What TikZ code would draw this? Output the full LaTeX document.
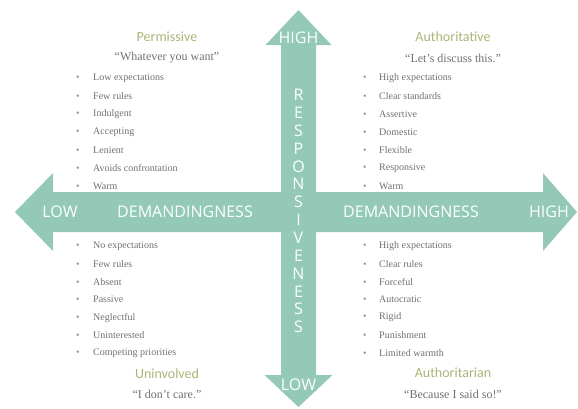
\documentclass[tikz,border=0pt]{standalone}
\usepackage{fontspec}
\setmainfont{Liberation Serif}
\newfontfamily\axisfont{Open Sans}
\newfontfamily\stylefont{Carlito}
\usetikzlibrary{positioning}

\definecolor{mint}{RGB}{147,201,182}
\definecolor{olive}{RGB}{168,182,120}
\definecolor{inkgray}{RGB}{112,112,112}
\definecolor{dotgray}{RGB}{150,150,150}

\newcommand{\bul}[1]{\makebox[#1][l]{\textcolor{dotgray}{\textbullet}}}

\begin{document}
\begin{tikzpicture}[x=1pt,y=-1pt,
					axis/.style={text=white,inner sep=0pt,font=\axisfont\fontsize{16}{16}\selectfont},
					stylename/.style={text=olive,inner sep=0pt,font=\stylefont\fontsize{14}{14}\selectfont},
					saying/.style={text=inkgray,inner sep=0pt,font=\fontsize{12}{12}\selectfont},
					item/.style={text=inkgray,anchor=west,inner sep=0pt,font=\fontsize{10}{10}\selectfont},
					node distance=9pt,
				]
				\useasboundingbox (0,0) rectangle (578,408);
				
				% the two crossed double arrows as one outline
				\fill[mint] (298.5,10) -- (331.5,45) -- (316,45) -- (316,192)
					-- (543,192) -- (543,173) -- (577,212) -- (543,251) -- (543,232)
					-- (316,232) -- (316,375) -- (332.5,375) -- (298.5,407) -- (264.5,375)
					-- (281,375) -- (281,232) -- (53,232) -- (53,251) -- (15,212)
					-- (53,173) -- (53,192) -- (281,192) -- (281,45) -- (265.5,45) -- cycle;
				
				% axis words
				\node[axis] (lowx) at (60,212) {LOW};
				\node[axis] (demleft) at (185,212) {DEMANDINGNESS};
				\node[axis] (demright) at (411,212) {DEMANDINGNESS};
				\node[axis] (highx) at (549,212) {HIGH};
				\node[axis] (highy) at (298.5,38) {HIGH};
				\node[axis] (lowy) at (298.5,385) {LOW};
				\foreach \c [count=\i from 0] in {R,E,S,P,O,N,S,I,V,E,N,E,S,S}
					\node[axis] (resp-\i) at (298.5,95+17.85*\i) {\c};
				
				% upper left
				\node[stylename] (perm) at (167,37) {Permissive};
				\node[saying] (permq) [below=of perm.center,anchor=center,yshift=-12pt] {``Whatever you want''};
				\foreach \t [count=\i from 0] in {Low expectations,Few rules,Indulgent,Accepting,Lenient,Avoids confrontation,Warm}
					\node[item] (perm-\i) at (76,78+18*\i) {\bul{17pt}\t};
				
				% upper right
				\node[stylename] (auth) at (453,37) {Authoritative};
				\node[saying] (authq) [below=of auth.center,anchor=center,yshift=-12pt] {``Let's discuss this.''};
				\foreach \t [count=\i from 0] in {High expectations,Clear standards,Assertive,Domestic,Flexible,Responsive,Warm}
					\node[item] (auth-\i) at (363,78+18*\i) {\bul{16pt}\t};
				
				% lower left
				\foreach \t [count=\i from 0] in {No expectations,Few rules,Absent,Passive,Neglectful,Uninterested,Competing priorities}
					\node[item] (uninv-\i) at (76,246+17.9*\i) {\bul{17pt}\t};
				\node[stylename] (uninv) at (167,374) {Uninvolved};
				\node[saying] (uninvq) [below=of uninv.center,anchor=center,yshift=-11pt] {``I don't care.''};
				
				% lower right
				\foreach \t [count=\i from 0] in {High expectations,Clear rules,Forceful,Autocratic,Rigid,Punishment,Limited warmth}
					\node[item] (autr-\i) at (363,246+17.9*\i) {\bul{16pt}\t};
				\node[stylename] (autr) at (453,373) {Authoritarian};
				\node[saying] (autrq) [below=of autr.center,anchor=center,yshift=-12pt] {``Because I said so!''};
				
			\end{tikzpicture}
\end{document}
